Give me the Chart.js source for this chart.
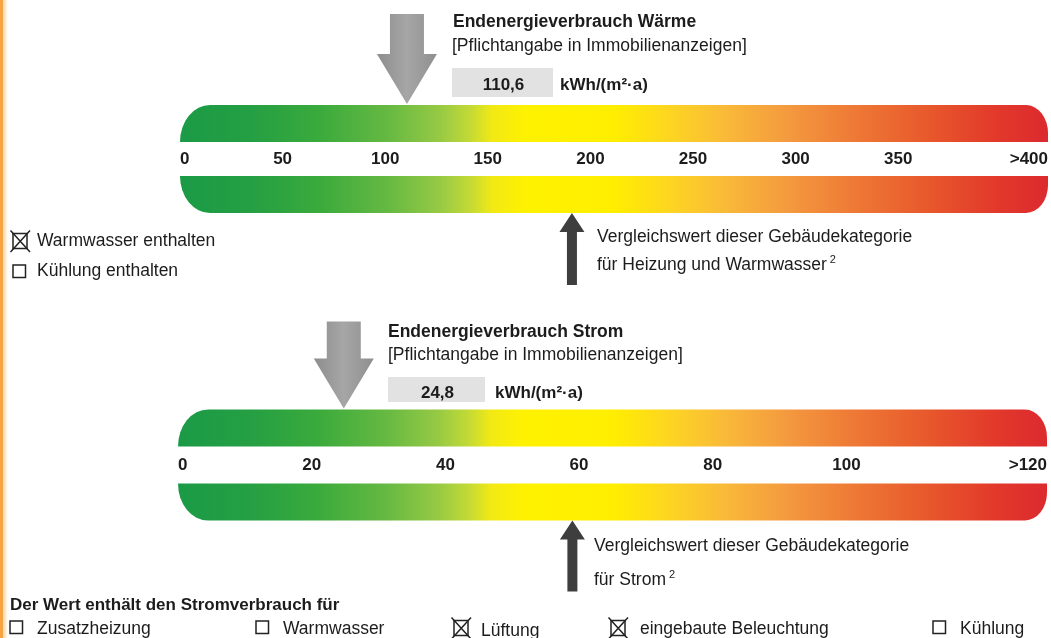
<!DOCTYPE html>
<html><head><meta charset="utf-8">
<script src="https://cdn.jsdelivr.net/npm/chart.js@4.4.1/dist/chart.umd.min.js"></script>
<style>
html,body{margin:0;padding:0;background:#fff;}
#wrap{position:relative;width:1051px;height:638px;overflow:hidden;background:#fff;font-family:"Liberation Sans",Arial,Helvetica,sans-serif;color:#1c1c1c;}
canvas{position:absolute;left:0;top:0;}
.t{position:absolute;white-space:nowrap;line-height:1;font-size:17.5px;z-index:3;}
.b{font-weight:bold;}
.box{position:absolute;background:#e2e2e2;z-index:2;}
.cb{position:absolute;z-index:3;}
.sup{font-size:11px;position:relative;top:-7px;margin-left:3px;}
</style></head>
<body><div id="wrap">
<div style="position:absolute;left:0;top:0;width:3px;height:638px;background:#f4a443;z-index:4"></div>
<div style="position:absolute;left:3px;top:0;width:5px;height:638px;background:linear-gradient(to right,#fbd49c,#ffffff);z-index:4"></div>
<canvas id="cW" width="1051" height="638"></canvas>
<canvas id="cS" width="1051" height="638"></canvas>

<div class="t b" style="left:453px;top:13.2px">Endenergieverbrauch Wärme</div>
<div class="t" style="left:452px;top:37.2px">[Pflichtangabe in Immobilienanzeigen]</div>
<div class="box" style="left:452px;top:68px;width:101px;height:29px"></div>
<div class="t b" style="left:453px;width:101px;text-align:center;top:75.6px;font-size:17px">110,6</div>
<div class="t b" style="left:560px;top:75.6px;font-size:17px">kWh/(m²·a)</div>

<svg class="cb" style="left:9px;top:229px" width="23" height="24"><rect x="4" y="4.5" width="14" height="15" fill="none" stroke="#222" stroke-width="1.5"/><path d="M1.5 1.5 L21 23 M21 1.5 L1.5 23" stroke="#222" stroke-width="1.5"/></svg>
<div class="t" style="left:37px;top:232.2px">Warmwasser enthalten</div>
<svg class="cb" style="left:12px;top:264px" width="15" height="15"><rect x="1" y="1" width="12.5" height="12.5" fill="none" stroke="#222" stroke-width="1.5"/></svg>
<div class="t" style="left:37px;top:262.2px">Kühlung enthalten</div>

<div class="t" style="left:597px;top:228.2px">Vergleichswert dieser Gebäudekategorie</div>
<div class="t" style="left:597px;top:256.2px">für Heizung und Warmwasser<span class="sup">2</span></div>

<div class="t b" style="left:388px;top:323.2px">Endenergieverbrauch Strom</div>
<div class="t" style="left:388px;top:346.2px">[Pflichtangabe in Immobilienanzeigen]</div>
<div class="box" style="left:388px;top:377px;width:97px;height:25px"></div>
<div class="t b" style="left:389px;width:97px;text-align:center;top:383.6px;font-size:17px">24,8</div>
<div class="t b" style="left:495px;top:383.6px;font-size:17px">kWh/(m²·a)</div>

<div class="t" style="left:594px;top:537.2px">Vergleichswert dieser Gebäudekategorie</div>
<div class="t" style="left:594px;top:571.2px">für Strom<span class="sup">2</span></div>

<div class="t b" style="left:10px;top:595.6px;font-size:17px">Der Wert enthält den Stromverbrauch für</div>

<svg class="cb" style="left:9px;top:620px" width="15" height="15"><rect x="1" y="1" width="12.5" height="12.5" fill="none" stroke="#222" stroke-width="1.5"/></svg>
<div class="t" style="left:37px;top:620.2px">Zusatzheizung</div>
<svg class="cb" style="left:255px;top:620px" width="15" height="15"><rect x="1" y="1" width="12.5" height="12.5" fill="none" stroke="#222" stroke-width="1.5"/></svg>
<div class="t" style="left:283px;top:620.2px">Warmwasser</div>
<svg class="cb" style="left:450px;top:616px" width="23" height="24"><rect x="4" y="4.5" width="14" height="15" fill="none" stroke="#222" stroke-width="1.5"/><path d="M1.5 1.5 L21 23 M21 1.5 L1.5 23" stroke="#222" stroke-width="1.5"/></svg>
<div class="t" style="left:481px;top:622px">Lüftung</div>
<svg class="cb" style="left:607px;top:616px" width="23" height="24"><rect x="4" y="4.5" width="14" height="15" fill="none" stroke="#222" stroke-width="1.5"/><path d="M1.5 1.5 L21 23 M21 1.5 L1.5 23" stroke="#222" stroke-width="1.5"/></svg>
<div class="t" style="left:640px;top:620.2px">eingebaute Beleuchtung</div>
<svg class="cb" style="left:932px;top:620px" width="15" height="15"><rect x="1" y="1" width="12.5" height="12.5" fill="none" stroke="#222" stroke-width="1.5"/></svg>
<div class="t" style="left:960px;top:620.2px">Kühlung</div>
</div>
<script>
// ---- Daten ----
const skalaZeilen = ['Skala oben', 'Skala unten'];

const waermeTicks = [0, 50, 100, 150, 200, 250, 300, 350, 423];
const waermeTickLabels = ['0', '50', '100', '150', '200', '250', '300', '350', '>400'];
const waermeSkalaEnde = 423;
const waermeWert = 110.6;
const waermeVergleich = 191;

const stromTicks = [0, 20, 40, 60, 80, 100, 130];
const stromTickLabels = ['0', '20', '40', '60', '80', '100', '>120'];
const stromSkalaEnde = 130;
const stromWert = 24.8;
const stromVergleich = 59;

// ---- Darstellung ----
const FONT = '"Liberation Sans", Arial, Helvetica, sans-serif';
const farbVerlauf = [
  [0, '#1b9a46'], [0.08, '#249f43'], [0.16, '#3aaa3c'], [0.24, '#66b942'],
  [0.30, '#97ca44'], [0.335, '#c4da35'], [0.36, '#f2e915'], [0.40, '#fff200'],
  [0.50, '#ffee00'], [0.57, '#fdd324'], [0.63, '#f9b939'], [0.70, '#f49a3f'],
  [0.78, '#ee7835'], [0.86, '#e8592c'], [0.94, '#e2392b'], [1, '#dc2a2e']
];

function bandPath(ctx, x0, x1, t, b, oben) {
  const h = b - t, rxL = 30, rxR = 22, ryR = Math.min(28, h);
  ctx.beginPath();
  if (oben) {
    ctx.moveTo(x0, b);
    ctx.ellipse(x0 + rxL, b, rxL, h, 0, Math.PI, 1.5 * Math.PI);
    ctx.lineTo(x1 - rxR, t);
    ctx.ellipse(x1 - rxR, t + ryR, rxR, ryR, 0, 1.5 * Math.PI, 2 * Math.PI);
    ctx.lineTo(x1, b);
  } else {
    ctx.moveTo(x0, t);
    ctx.lineTo(x1, t);
    ctx.lineTo(x1, b - ryR);
    ctx.ellipse(x1 - rxR, b - ryR, rxR, ryR, 0, 0, 0.5 * Math.PI);
    ctx.lineTo(x0 + rxL, b);
    ctx.ellipse(x0 + rxL, t, rxL, h, 0, 0.5 * Math.PI, Math.PI);
  }
  ctx.closePath();
}

const gaugePlugin = {
  id: 'gauge',
  beforeDatasetDraw(chart, args) {
    const ctx = chart.ctx;
    const meta = args.meta;
    meta.data.forEach((el, i) => {
      const p = el.getProps(['x', 'y', 'base', 'height'], true);
      const x0 = Math.min(p.base, p.x), x1 = Math.max(p.base, p.x);
      const t = p.y - p.height / 2, b = p.y + p.height / 2;
      const g = ctx.createLinearGradient(x0, 0, x1, 0);
      farbVerlauf.forEach(s => g.addColorStop(s[0], s[1]));
      ctx.save();
      bandPath(ctx, x0, x1, t, b, i === 0);
      ctx.fillStyle = g;
      ctx.fill();
      ctx.restore();
    });
    return false;
  },
  afterDraw(chart, args, opts) {
    const ctx = chart.ctx;
    const xs = chart.scales.x;
    const meta = chart.getDatasetMeta(0);
    const top0 = meta.data[0].getProps(['y', 'height'], true);
    const bot1 = meta.data[1].getProps(['y', 'height'], true);
    const bandTop = top0.y - top0.height / 2;
    const bandBottom = bot1.y + bot1.height / 2;

    // Pfeil: Verbrauchswert (grau, nach unten)
    const xw = xs.getPixelForValue(opts.wert);
    const tip = bandTop - 1;
    const sw = 34, hw = 60, hh = 50;
    const topY = tip - opts.pfeilLaenge;
    const gr = ctx.createLinearGradient(xw - hw / 2, 0, xw + hw / 2, 0);
    gr.addColorStop(0, '#8d8d8d'); gr.addColorStop(0.5, '#a6a6a6'); gr.addColorStop(1, '#8f8f8f');
    ctx.save();
    ctx.fillStyle = gr;
    ctx.beginPath();
    ctx.moveTo(xw - sw / 2, topY);
    ctx.lineTo(xw + sw / 2, topY);
    ctx.lineTo(xw + sw / 2, tip - hh);
    ctx.lineTo(xw + hw / 2, tip - hh);
    ctx.lineTo(xw, tip);
    ctx.lineTo(xw - hw / 2, tip - hh);
    ctx.lineTo(xw - sw / 2, tip - hh);
    ctx.closePath();
    ctx.fill();

    // Pfeil: Vergleichswert (dunkel, nach oben)
    const xv = xs.getPixelForValue(opts.vergleich);
    const vt = bandBottom;
    const vsw = 10, vhw = 25, vhh = 19;
    const vb = vt + opts.vergleichLaenge;
    ctx.fillStyle = '#3e3e3e';
    ctx.beginPath();
    ctx.moveTo(xv, vt);
    ctx.lineTo(xv + vhw / 2, vt + vhh);
    ctx.lineTo(xv + vsw / 2, vt + vhh);
    ctx.lineTo(xv + vsw / 2, vb);
    ctx.lineTo(xv - vsw / 2, vb);
    ctx.lineTo(xv - vsw / 2, vt + vhh);
    ctx.lineTo(xv - vhw / 2, vt + vhh);
    ctx.closePath();
    ctx.fill();
    ctx.restore();
  }
};

function makeGauge(id, ticks, labels, ende, wert, vergleich, pad, pfeilLaenge, vergleichLaenge) {
  return new Chart(document.getElementById(id), {
    type: 'bar',
    data: {
      labels: skalaZeilen,
      datasets: [{
        data: skalaZeilen.map(() => [0, ende]),
        barThickness: 37,
        categoryPercentage: 1,
        barPercentage: 1,
        backgroundColor: '#ffee00'
      }]
    },
    options: {
      indexAxis: 'y',
      responsive: false,
      animation: false,
      events: [],
      layout: { padding: pad },
      plugins: {
        legend: { display: false },
        tooltip: { enabled: false },
        gauge: { wert: wert, vergleich: vergleich, pfeilLaenge: pfeilLaenge, vergleichLaenge: vergleichLaenge }
      },
      scales: {
        y: { display: false },
        x: {
          type: 'linear',
          min: 0,
          max: ende,
          position: 'center',
          grid: { display: false, drawTicks: false },
          border: { display: false },
          afterBuildTicks: s => { s.ticks = ticks.map(v => ({ value: v })); },
          ticks: {
            autoSkip: false,
            maxRotation: 0,
            minRotation: 0,
            align: 'inner',
            padding: -10,
            color: '#1c1c1c',
            font: { family: FONT, size: 17, weight: 'bold' },
            callback: (v, i) => labels[i]
          }
        }
      }
    },
    plugins: [gaugePlugin]
  });
}

makeGauge('cW', waermeTicks, waermeTickLabels, waermeSkalaEnde, waermeWert, waermeVergleich,
  { left: 180, right: 3, top: 88, bottom: 638 - 230 }, 90, 72);
makeGauge('cS', stromTicks, stromTickLabels, stromSkalaEnde, stromWert, stromVergleich,
  { left: 178, right: 4, top: 391, bottom: 638 - 539 }, 87, 71);
</script>
</body></html>
